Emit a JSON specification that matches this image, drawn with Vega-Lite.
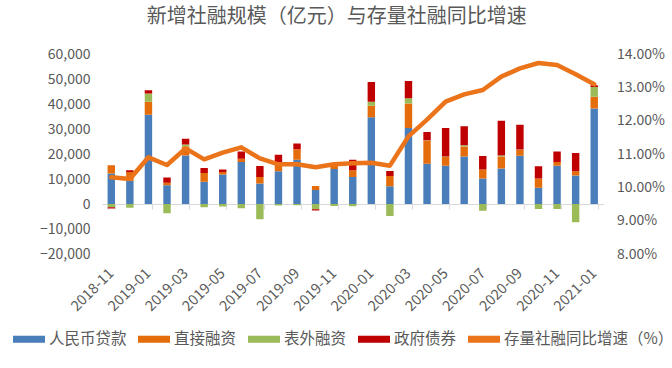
{
  "$schema": "https://vega.github.io/schema/vega-lite/v6.json",
  "autosize": {"type": "none"},
  "width": 501.5,
  "height": 200,
  "padding": {"left": 102, "top": 54, "right": 68.5, "bottom": 114},
  "background": "white",
  "config": {
    "font": "Noto Sans CJK SC",
    "view": {"stroke": null},
    "axis": {"labelColor": "#595959", "labelFont": "Noto Sans CJK SC", "grid": false, "ticks": false, "domain": false, "title": null}
  },
  "title": {
    "text": "新增社融规模（亿元）与存量社融同比增速",
    "anchor": "middle",
    "frame": "group",
    "dx": -16,
    "offset": 20,
    "fontSize": 20,
    "fontWeight": "normal",
    "color": "#595959",
    "font": "Noto Sans CJK SC"
  },
  "datasets": {
    "order": [
      {"series": "人民币贷款", "k": 1},
      {"series": "直接融资", "k": 2},
      {"series": "表外融资", "k": 3},
      {"series": "政府债券", "k": 4}
    ]
  },
  "data": {
    "values": [
      {"m": "2018-11", "人民币贷款": 12200, "直接融资": 3300, "表外融资": -1300, "政府债券": -500, "增速": 10.30},
      {"m": "2018-12", "人民币贷款": 9250, "直接融资": 3550, "表外融资": -1500, "政府债券": 700, "增速": 10.25},
      {"m": "2019-01", "人民币贷款": 35700, "直接融资": 5200, "表外融资": 3300, "政府债券": 1300, "增速": 10.90},
      {"m": "2019-02", "人民币贷款": 7500, "直接融资": 1000, "表外融资": -3700, "政府债券": 2100, "增速": 10.67},
      {"m": "2019-03", "人民币贷款": 19400, "直接融资": 3600, "表外融资": 800, "政府债券": 2300, "增速": 11.17},
      {"m": "2019-04", "人民币贷款": 8900, "直接融资": 3500, "表外融资": -1300, "政府债券": 2000, "增速": 10.84},
      {"m": "2019-05", "人民币贷款": 11800, "直接融资": 1000, "表外融资": -1000, "政府债券": 1000, "增速": 11.04},
      {"m": "2019-06", "人民币贷款": 16800, "直接融资": 1300, "表外融资": -1700, "政府债券": 2900, "增速": 11.20},
      {"m": "2019-07", "人民币贷款": 8200, "直接融资": 2600, "表外融资": -6100, "政府债券": 4400, "增速": 10.87},
      {"m": "2019-08", "人民币贷款": 13100, "直接融资": 3000, "表外融资": -600, "政府债券": 3600, "增速": 10.69},
      {"m": "2019-09", "人民币贷款": 17700, "直接融资": 4200, "表外融资": -500, "政府债券": 2300, "增速": 10.69},
      {"m": "2019-10", "人民币贷款": 5600, "直接融资": 1600, "表外融资": -2100, "政府债券": -500, "增速": 10.60},
      {"m": "2019-11", "人民币贷款": 14000, "直接融资": 1800, "表外融资": -800, "政府债券": 500, "增速": 10.69},
      {"m": "2019-12", "人民币贷款": 10800, "直接融资": 2700, "表外融资": -900, "政府债券": 4200, "增速": 10.72},
      {"m": "2020-01", "人民币贷款": 34700, "直接融资": 4600, "表外融资": 1600, "政府债券": 7900, "增速": 10.74},
      {"m": "2020-02", "人民币贷款": 7100, "直接融资": 4100, "表外融资": -4800, "政府债券": 2000, "增速": 10.65},
      {"m": "2020-03", "人民币贷款": 30400, "直接融资": 9800, "表外融资": 2100, "政府债券": 6900, "增速": 11.53},
      {"m": "2020-04", "人民币贷款": 16100, "直接融资": 9300, "表外融资": 100, "政府债券": 3300, "增速": 12.03},
      {"m": "2020-05", "人民币贷款": 15300, "直接融资": 3500, "表外融资": 200, "政府债券": 11400, "增速": 12.57},
      {"m": "2020-06", "人民币贷款": 19000, "直接融资": 4000, "表外融资": 500, "政府债券": 7600, "增速": 12.79},
      {"m": "2020-07", "人民币贷款": 10200, "直接融资": 3600, "表外融资": -2700, "政府债券": 5400, "增速": 12.92},
      {"m": "2020-08", "人民币贷款": 14200, "直接融资": 4800, "表外融资": 400, "政府债券": 13900, "增速": 13.32},
      {"m": "2020-09", "人民币贷款": 19300, "直接融资": 2400, "表外融资": 100, "政府债券": 9900, "增速": 13.57},
      {"m": "2020-10", "人民币贷款": 6500, "直接融资": 3700, "表外融资": -2000, "政府债券": 4900, "增速": 13.73},
      {"m": "2020-11", "人民币贷款": 15300, "直接融资": 1500, "表外融资": -2000, "政府债券": 4200, "增速": 13.67},
      {"m": "2020-12", "人民币贷款": 11400, "直接融资": 1700, "表外融资": -7300, "政府债券": 7300, "增速": 13.39},
      {"m": "2021-01", "人民币贷款": 38200, "直接融资": 4700, "表外融资": 3900, "政府债券": 700, "增速": 13.09}
    ]
  },
  "encoding": {
    "x": {
      "field": "m",
      "type": "ordinal",
      "sort": null,
      "scale": {"paddingInner": 0.6, "paddingOuter": 0.3},
      "axis": {
        "values": ["2018-11", "2019-01", "2019-03", "2019-05", "2019-07", "2019-09", "2019-11", "2020-01", "2020-03", "2020-05", "2020-07", "2020-09", "2020-11", "2021-01"],
        "offset": -50,
        "domain": true,
        "domainColor": "#D9D9D9",
        "domainWidth": 1,
        "ticks": true,
        "tickColor": "#D9D9D9",
        "tickSize": 5,
        "tickBand": "extent",
        "labelAngle": -45,
        "labelAlign": "right",
        "labelBaseline": "middle",
        "labelPadding": 62,
        "labelFontSize": 14.5
      }
    }
  },
  "layer": [
    {
      "transform": [
        {"fold": ["人民币贷款", "直接融资", "表外融资", "政府债券"], "as": ["series", "value"]},
        {"lookup": "series", "from": {"data": {"name": "order"}, "key": "series", "fields": ["k"]}}
      ],
      "mark": {"type": "bar"},
      "encoding": {
        "y": {
          "field": "value",
          "type": "quantitative",
          "stack": "zero",
          "scale": {"domain": [-20000, 60000], "nice": false, "zero": false},
          "axis": {"values": [-20000, -10000, 0, 10000, 20000, 30000, 40000, 50000, 60000], "labelExpr": "format(datum.value, ',')", "labelOverlap": false, "labelPadding": 12, "labelFontSize": 14}
        },
        "order": {"field": "k", "type": "quantitative", "sort": "ascending"},
        "color": {
          "field": "series",
          "type": "nominal",
          "scale": {
            "domain": ["人民币贷款", "直接融资", "表外融资", "政府债券", "存量社融同比增速（%）"],
            "range": ["#4A7EBB", "#E46C0A", "#9BBB59", "#C00000", "#EB7319"]
          },
          "legend": {
            "title": null,
            "orient": "none",
            "legendX": -89,
            "legendY": 269,
            "direction": "horizontal",
            "symbolType": "M-1,-0.22H1V0.22H-1Z",
            "symbolSize": 1024,
            "symbolStrokeWidth": 0,
            "labelFontSize": 15.5,
            "labelColor": "#595959",
            "labelOffset": 4,
            "labelLimit": 0,
            "columnPadding": 11
          }
        }
      }
    },
    {
      "mark": {"type": "line", "strokeWidth": 4.5, "strokeCap": "round", "strokeJoin": "round"},
      "encoding": {
        "y": {
          "field": "增速",
          "type": "quantitative",
          "scale": {"domain": [8, 14], "nice": false, "zero": false},
          "axis": {"orient": "right", "values": [8, 9, 10, 11, 12, 13, 14], "labelExpr": "format(datum.value, '.2f') + '%'", "labelOverlap": false, "labelPadding": 13, "labelFontSize": 14}
        },
        "color": {"datum": "存量社融同比增速（%）"}
      }
    }
  ],
  "resolve": {"scale": {"y": "independent"}}
}
